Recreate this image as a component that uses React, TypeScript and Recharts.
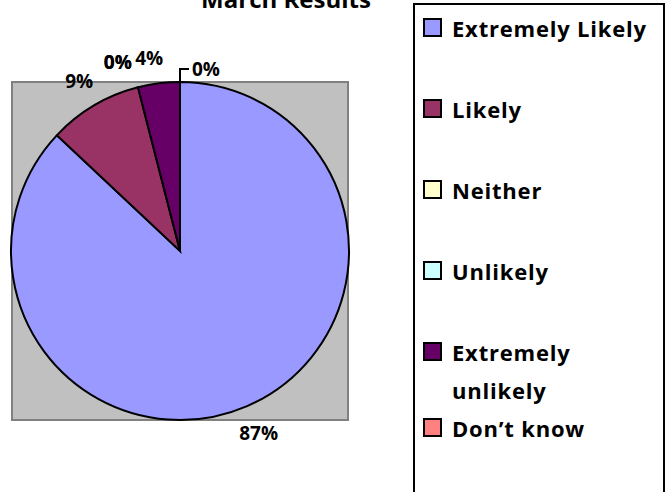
import { PieChart, Pie, Cell, Legend } from 'recharts';

const categories = ['Extremely Likely', 'Likely', 'Neither', 'Unlikely', 'Extremely unlikely', 'Don\u2019t know'];
const shares = [87, 9, 0, 0, 4, 0];
const colors = ['#9999FF', '#993366', '#FFFFCC', '#CCFFFF', '#660066', '#FF8080'];
const title = 'March Results';

const data = categories.map((name, i) => ({ name, value: shares[i] }));

const FONT = '"Open Sans", Lato, sans-serif';
const RADIAN = Math.PI / 180;

// excel pushes the crowded labels sideways
const nudge: Record<number, [number, number]> = { 2: [-13, 3], 3: [-13, 3], 4: [-6, 3] };

const renderLabel = (props: any) => {
  const { cx, cy, midAngle, outerRadius, index, value } = props;
  const r = outerRadius + 29;
  const text = `${Math.round(value)}%`;
  if (index === 5) {
    // leader line for the last zero slice at 12 o'clock
    const topY = cy - outerRadius;
    return (
      <g>
        <path d={`M${cx},${topY} L${cx},${topY - 13} L${cx + 9},${topY - 13}`} stroke="#000" strokeWidth={2} fill="none" />
        <text x={cx + 12} y={topY - 13} dominantBaseline="central" fontFamily={FONT} fontWeight={700} fontSize={19} fill="#000">
          {text}
        </text>
      </g>
    );
  }
  const [dx, dy] = nudge[index] || [0, 0];
  const x = cx + r * Math.cos(-midAngle * RADIAN) + dx;
  const y = cy + r * Math.sin(-midAngle * RADIAN) + dy;
  return (
    <text x={x} y={y} textAnchor="middle" dominantBaseline="central" fontFamily={FONT} fontWeight={700} fontSize={19} fill="#000">
      {text}
    </text>
  );
};

const renderLegend = () => (
  <div
    style={{
      boxSizing: 'border-box',
      width: 252,
      height: 500,
      border: '2px solid #000',
      background: '#fff',
      padding: '4px 0 0 8px',
      fontFamily: FONT,
      fontWeight: 700,
      fontSize: 22,
      letterSpacing: 0.8,
      lineHeight: '38px',
      color: '#000',
    }}
  >
    {categories.map((name, i) => (
      <div key={name} style={{ display: 'flex', alignItems: 'flex-start', marginBottom: i === 4 ? 0 : 43 }}>
        <span
          style={{
            boxSizing: 'border-box',
            width: 19,
            height: 19,
            marginTop: 9,
            marginRight: 10,
            flex: 'none',
            background: colors[i],
            border: '2px solid #000',
          }}
        />
        <span style={{ width: 205 }}>{name}</span>
      </div>
    ))}
  </div>
);

export default function App() {
  return (
    <div style={{ position: 'absolute', left: 0, top: 0, width: 669, height: 492, overflow: 'hidden', background: '#fff' }}>
      <div
        style={{
          position: 'absolute',
          left: 11,
          top: 81,
          width: 338,
          height: 340,
          boxSizing: 'border-box',
          background: '#C0C0C0',
          border: '2px solid #808080',
        }}
      />
      <PieChart width={669} height={492} margin={{ top: 0, right: 0, bottom: 0, left: 0 }}>
        <text x={286} y={8} textAnchor="middle" fontFamily={FONT} fontWeight={700} fontSize={24} fill="#000">
          {title}
        </text>
        <Pie
          data={data}
          dataKey="value"
          nameKey="name"
          cx={180}
          cy={251}
          outerRadius={169}
          startAngle={90}
          endAngle={-270}
          stroke="#000"
          strokeWidth={2}
          label={renderLabel}
          labelLine={false}
          isAnimationActive={false}
        >
          {data.map((d, i) => (
            <Cell key={d.name} fill={colors[i]} />
          ))}
        </Pie>
        <Legend content={renderLegend} wrapperStyle={{ left: 413, top: 3, width: 252, height: 500, right: 'auto' }} />
      </PieChart>
    </div>
  );
}
